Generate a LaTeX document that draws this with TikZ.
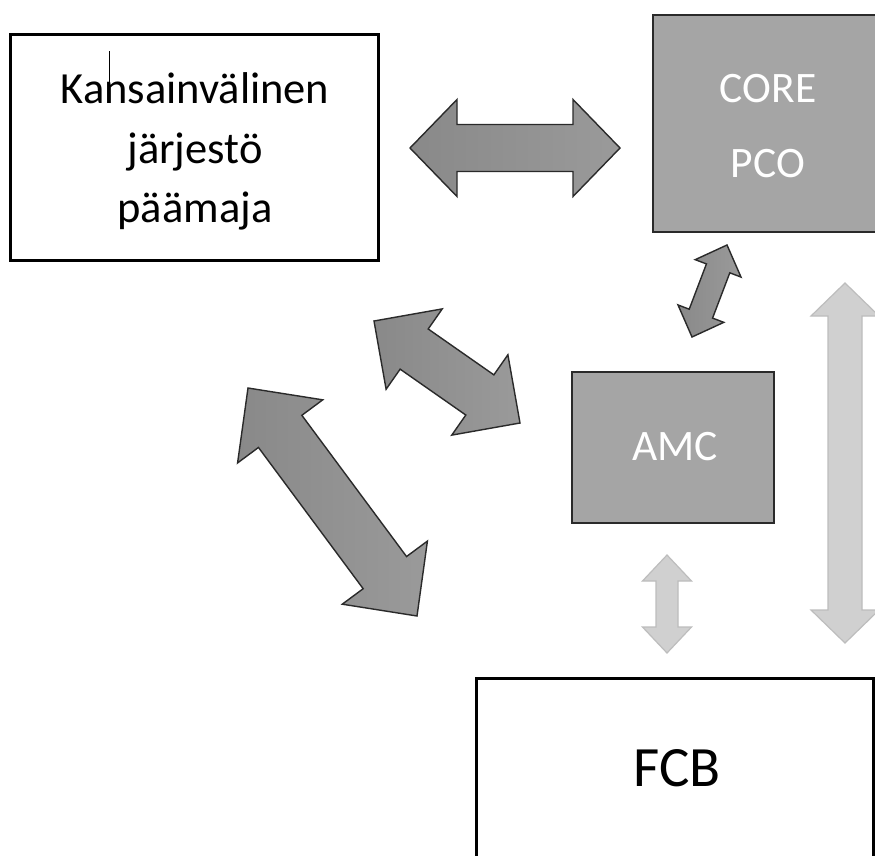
\documentclass[tikz,border=0pt]{standalone}
\usepackage{fontspec}
\setmainfont{Carlito}
\usetikzlibrary{calc}
\definecolor{boxgray}{HTML}{A5A5A5}
\definecolor{darkA}{HTML}{898989}
\definecolor{darkB}{HTML}{9A9A9A}
\definecolor{lightfill}{HTML}{D0D0D0}
\definecolor{lightedge}{HTML}{BDBDBD}
\definecolor{edgegray}{HTML}{2A2A2A}
% block double arrow: style, tip A, tip B, head length, head half-width, shaft half-width
\newcommand\blockarrow[6]{%
  \path ($(#2)!#4!(#3)$) coordinate (ba1) ($(#3)!#4!(#2)$) coordinate (ba2);
  \draw[#1] (#2) -- ($(ba1)!#5!90:(#3)$) -- ($(ba1)!#6!90:(#3)$)
    -- ($(ba2)!#6!-90:(#2)$) -- ($(ba2)!#5!-90:(#2)$) -- (#3)
    -- ($(ba2)!#5!90:(#2)$) -- ($(ba2)!#6!90:(#2)$)
    -- ($(ba1)!#6!-90:(#3)$) -- ($(ba1)!#5!-90:(#3)$) -- cycle;}
\begin{document}
\begin{tikzpicture}[x=1pt,y=-1pt,
  whitebox/.style={draw=black, line width=3pt, fill=white, inner sep=0, rectangle},
  graybox/.style={draw=edgegray, line width=2pt, fill=boxgray, inner sep=0, rectangle},
  blacktxt/.style={font=\fontsize{44.5}{50}\selectfont, text=black, anchor=base, inner sep=0},
  whitetxt/.style={font=\fontsize{43.5}{50}\selectfont, text=white, anchor=base, inner sep=0},
  bigtxt/.style={font=\fontsize{57}{64}\selectfont, text=black, anchor=base, inner sep=0},
  darkarrow/.style={draw=edgegray, line width=1.4pt, line join=miter, left color=darkA, right color=darkB},
  lightarrow/.style={draw=lightedge, line width=1.2pt, line join=miter, fill=lightfill}]
\clip (0,0) rectangle (875,855);
\fill[white] (0,0) rectangle (875,855);

% boxes
\node[whitebox, minimum width=368pt, minimum height=226pt] (hq) at (194,147) {};
\node[graybox, minimum width=230pt, minimum height=217pt] (core) at (768,123.5) {};
\node[graybox, minimum width=202pt, minimum height=151pt] (amc) at (673,447.5) {};
\node[whitebox, minimum width=397pt, minimum height=200pt] (fcb) at (674.5,778) {};

% texts
\node[blacktxt] (t1) at (195,103) {Kansainvälinen};
\node[blacktxt] (t2) at (195,163) {järjestö};
\node[blacktxt] (t3) at (195,222) {päämaja};
\coordinate (caretTop) at (109,51);
\coordinate (caretBot) at (109,103);
\draw[line width=0.9pt] (caretTop) -- (caretBot);
\node[whitetxt] (tcore) at (768,102) {CORE};
\node[whitetxt] (tpco) at (768,177) {PCO};
\node[whitetxt] (tamc) at (675,460) {AMC};
\node[bigtxt] (tfcb) at (677,786) {FCB};

% arrow tips
\coordinate (a1s) at (410,148); \coordinate (a1e) at (620,148);
\coordinate (a2s) at (374,321); \coordinate (a2e) at (520,423);
\coordinate (a3s) at (248,388); \coordinate (a3e) at (417,616);
\coordinate (a4s) at (727,245); \coordinate (a4e) at (692,337);
\coordinate (a5s) at (845,283); \coordinate (a5e) at (845,643);
\coordinate (a6s) at (667,555); \coordinate (a6e) at (667,653);

\blockarrow{darkarrow}{a1s}{a1e}{47pt}{48.5pt}{23.5pt}
\blockarrow{darkarrow}{a2s}{a2e}{49pt}{49pt}{24.5pt}
\blockarrow{darkarrow}{a3s}{a3e}{54pt}{53pt}{27pt}
\blockarrow{darkarrow}{a4s}{a4e}{25pt}{24.5pt}{12.5pt}
\blockarrow{lightarrow}{a5s}{a5e}{33pt}{34pt}{17pt}
\blockarrow{lightarrow}{a6s}{a6e}{26pt}{24.5pt}{11pt}
\end{tikzpicture}
\end{document}
